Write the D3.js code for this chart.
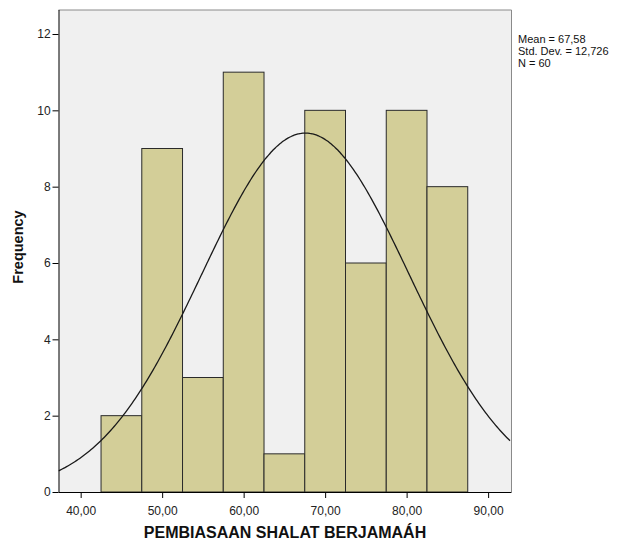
<!DOCTYPE html>
<html><head><meta charset="utf-8">
<script src="https://cdn.jsdelivr.net/npm/d3@7"></script>
<style>body{margin:0;background:#fff}svg{display:block}text{font-family:"Liberation Sans",Arial,sans-serif}</style>
</head><body>
<svg id="c" width="620" height="541"></svg>
<script>
const binStarts = [42.5,47.5,52.5,57.5,62.5,67.5,72.5,77.5,82.5];
const binWidth = 5;
const frequencies = [2,9,3,11,1,10,6,10,8];
const xTicks = [40,50,60,70,80,90];
const yTicks = [0,2,4,6,8,10,12];
const stats = {mean:67.58, sd:12.726, n:60};
const statLabels = ["Mean = 67,58","Std. Dev. = 12,726","N = 60"];

const svg = d3.select("#c");
const L=58.5, R=511.5, T=10, B=492;
const x = d3.scaleLinear().domain([37.28,92.87]).range([L,R]);
const y = d3.scaleLinear().domain([0,12]).range([B,34]);

svg.append("rect").attr("x",L).attr("y",T).attr("width",R-L).attr("height",B-T).attr("fill","#f0f0f0");

svg.selectAll("rect.bar").data(binStarts).enter().append("rect").attr("class","bar")
  .attr("x",d=>x(d)).attr("width",d=>x(d+binWidth)-x(d))
  .attr("y",(d,i)=>y(frequencies[i])).attr("height",(d,i)=>y(0)-y(frequencies[i]))
  .attr("fill","#d3ce98").attr("stroke","#2a2a2a").attr("stroke-width",1);

// normal curve
const pts = d3.range(x.domain()[0], x.domain()[1]+0.01, 0.2);
const pdf = v => stats.n*binWidth/(stats.sd*Math.sqrt(2*Math.PI))*Math.exp(-0.5*((v-stats.mean)/stats.sd)**2);
svg.append("clipPath").attr("id","cp").append("rect").attr("x",L).attr("y",T).attr("width",R-L).attr("height",B-T);
svg.append("path").datum(pts).attr("clip-path","url(#cp)")
  .attr("d",d3.line().x(d=>x(d)).y(d=>y(pdf(d))).curve(d3.curveMonotoneX))
  .attr("fill","none").attr("stroke","#1a1a1a").attr("stroke-width",1.3);

// frame
svg.append("line").attr("x1",L).attr("x2",R).attr("y1",T).attr("y2",T).attr("stroke","#8a8a8a");
svg.append("line").attr("x1",R).attr("x2",R).attr("y1",T).attr("y2",B).attr("stroke","#8a8a8a");

const xa = svg.append("g").attr("transform",`translate(0,${B})`)
  .call(d3.axisBottom(x).tickValues(xTicks).tickSize(6).tickSizeOuter(0).tickFormat(d=>d3.format(".2f")(d).replace(".",",")));
xa.select(".domain").attr("d",`M${L},0.5H${R}`).attr("stroke","#000");
xa.selectAll("text").attr("font-size","12px").attr("fill","#222").attr("dy","1.15em");
xa.selectAll(".tick line").attr("stroke","#000");

const ya = svg.append("g").attr("transform",`translate(${L},0)`)
  .call(d3.axisLeft(y).tickValues(yTicks).tickSize(6).tickSizeOuter(0));
ya.select(".domain").attr("d",`M0.5,${T}V${B}`).attr("stroke","#000");
ya.selectAll("text").attr("font-size","12px").attr("fill","#222").attr("dx","0.1em");
ya.selectAll(".tick line").attr("stroke","#000");

svg.append("text").attr("x",285).attr("y",538).attr("text-anchor","middle")
  .attr("font-size","16px").attr("font-weight","bold").attr("fill","#111").text("PEMBIASAAN SHALAT BERJAMAÁH");
svg.append("text").attr("transform","translate(23,247) rotate(-90)").attr("text-anchor","middle")
  .attr("font-size","14.5px").attr("font-weight","bold").attr("fill","#111").text("Frequency");

svg.selectAll("text.st").data(statLabels).enter().append("text").attr("class","st")
  .attr("x",518).attr("y",(d,i)=>43+i*12).attr("font-size","11px").attr("fill","#111").text(d=>d);
</script>
</body></html>
